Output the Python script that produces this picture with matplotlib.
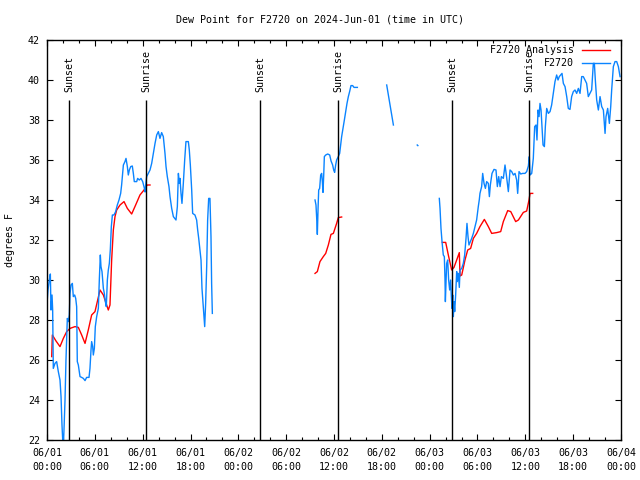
import numpy as np
import matplotlib
matplotlib.use("Agg")
import matplotlib.pyplot as plt
from matplotlib.ticker import MultipleLocator

nan = np.nan

# hours since 2024-06-01 00:00 UTC
obs_hours = [
    0.0, 0.125, 0.29, 0.42, 0.5, 0.63, 0.71, 0.79, 1.0, 1.21, 1.42, 1.63, 1.76, 1.88, 1.97, 2.05,
    2.13, 2.26, 2.38, 2.55, 2.68, 2.8, 2.89, 3.01, 3.18, 3.3, 3.47, 3.6, 3.72, 3.8, 3.93, 4.14,
    4.35, 4.56, 4.77, 4.97, 5.27, 5.39, 5.52, 5.6, 5.73, 5.81, 5.94, 6.06, 6.23, 6.44, 6.57, 6.69,
    6.77, 6.9, 7.07, 7.19, 7.32, 7.44, 7.57, 7.69, 7.82, 7.94, 8.07, 8.2, 8.4, 8.61, 8.82, 9.03,
    9.24, 9.36, 9.58, 9.78, 9.91, 10.08, 10.2, 10.33, 10.5, 10.7, 10.83, 10.95, 11.25, 11.37,
    11.58, 11.79, 12.0, 12.21, 12.3, 12.42, 12.5, 12.71, 12.92, 13.13, 13.34, 13.55, 13.76,
    13.97, 14.17, 14.38, 14.59, 14.8, 14.93, 15.09, 15.3, 15.43, 15.64, 15.85, 16.18, 16.35,
    16.48, 16.6, 16.68, 16.81, 16.93, 17.1, 17.27, 17.43, 17.73, 17.85, 17.98, 18.15, 18.27,
    18.56, 18.77, 18.9, 19.03, 19.32, 19.44, 19.57, 19.69, 19.78, 19.9, 20.03, 20.15, 20.28,
    20.44, 20.57, 20.65, 20.74,
    20.8,
    33.62, 33.74, 33.83, 33.91, 34.0, 34.08, 34.2, 34.33, 34.45, 34.54, 34.62, 34.71, 34.79,
    34.96, 35.21, 35.46, 35.63, 35.83, 35.96, 36.08, 36.21, 36.33, 36.54, 36.71, 36.84, 36.96,
    37.13, 37.3, 37.46, 37.63, 37.8, 37.96, 38.13, 38.34, 38.51, 38.93,
    39.0,
    42.61, 42.82, 43.03, 43.24, 43.45,
    43.5,
    46.44, 46.52,
    46.6,
    49.21, 49.3, 49.42, 49.55, 49.71, 49.84, 49.92, 49.97, 50.05, 50.13, 50.26, 50.38, 50.51,
    50.63, 50.72, 50.8, 50.89, 50.97, 51.05, 51.14, 51.26, 51.39, 51.47, 51.6, 51.72, 51.81,
    52.02, 52.22, 52.39, 52.56, 52.68, 52.81, 52.93, 53.1, 53.27, 53.48, 53.69, 53.89, 54.1,
    54.23, 54.31, 54.52, 54.65, 54.82, 54.99, 55.15, 55.36, 55.49, 55.61, 55.82, 56.07, 56.32,
    56.49, 56.66, 56.83, 56.99, 57.24, 57.45, 57.62, 57.87, 58.08, 58.29, 58.5, 58.71, 58.91,
    59.04, 59.21, 59.42, 59.66, 59.96, 60.17, 60.38, 60.5, 60.59, 60.8, 61.0, 61.17, 61.34,
    61.46, 61.59, 61.72, 61.84, 61.97, 62.09, 62.22, 62.39, 62.51, 62.68, 62.89, 63.1, 63.3,
    63.51, 63.72, 63.93, 64.1, 64.26, 64.43, 64.6, 64.77, 64.98, 65.19, 65.39, 65.6, 65.81,
    66.02, 66.23, 66.44, 66.65, 66.86, 67.07, 67.27, 67.48, 67.69, 67.9, 68.11, 68.32, 68.53,
    68.66, 68.78, 68.95, 69.16, 69.37, 69.58, 69.79, 70.0, 70.12, 70.33, 70.54, 70.71, 70.83,
    71.04, 71.25, 71.46, 71.67, 71.88,
]
obs_dewpt = [
    28.83, 29.5, 30.0, 30.3, 28.5, 29.25, 28.5, 25.58, 25.83, 25.92, 25.42, 25.0, 24.17, 22.75, 22.0, 21.67,
    22.5, 24.0, 26.0, 28.08, 27.92, 28.25, 29.33, 29.75, 29.83, 29.17, 29.25, 29.08, 28.67, 25.92, 25.75, 25.17,
    25.13, 25.08, 24.97, 25.13, 25.13, 25.58, 26.5, 26.92, 26.67, 26.25, 26.58, 27.67, 28.17, 28.58, 30.08, 31.25,
    30.67, 30.42, 29.58, 29.33, 28.92, 28.67, 30.0, 30.5, 30.83, 31.5, 32.67, 33.25, 33.25, 33.42, 33.75, 34.0,
    34.33, 34.75, 35.75, 35.92, 36.08, 35.67, 35.25, 35.5, 35.67, 35.7, 35.33, 34.92, 34.92, 35.08,
    35.0, 35.08, 34.92, 34.6, 34.4, 34.9, 35.17, 35.33, 35.5, 35.83, 36.33, 36.83, 37.25,
    37.42, 37.08, 37.37, 37.17, 36.33, 35.67, 35.17, 34.67, 34.17, 33.58, 33.17, 33.0, 33.67,
    35.33, 34.83, 35.08, 34.33, 33.83, 34.83, 36.0, 36.92, 36.92, 36.5, 35.75, 34.5, 33.33,
    33.25, 33.0, 32.5, 32.08, 31.0, 29.58, 28.83, 28.08, 27.67, 28.83, 30.67, 33.0, 34.08,
    34.08, 32.17, 29.83, 28.33,
    nan,
    34.0, 33.75, 33.08, 32.28, 33.58, 34.5, 34.58, 35.25, 35.33, 34.92, 34.38, 35.25, 36.17,
    36.25, 36.3, 36.25, 35.95, 35.75, 35.5, 35.38, 35.75, 36.0, 36.17, 36.33, 36.75, 37.17,
    37.58, 38.0, 38.42, 38.83, 39.17, 39.42, 39.72, 39.72, 39.63, 39.63,
    nan,
    39.75, 39.25, 38.75, 38.25, 37.75,
    nan,
    36.75, 36.72,
    nan,
    34.08, 33.58, 32.58, 31.92, 31.25, 31.17, 30.08, 28.92, 29.83, 30.83, 31.0, 30.0, 29.5,
    30.0, 29.17, 28.58, 29.25, 28.17, 28.92, 28.42, 29.25, 30.42, 29.92, 30.33, 29.63, 30.5,
    30.58, 30.83, 31.25, 32.08, 32.83, 32.17, 31.75, 31.92, 32.08, 32.33, 32.67, 33.0, 33.67,
    34.03, 34.33, 34.67, 35.33, 34.83, 34.58, 34.92, 34.83, 34.17, 34.75, 35.33, 35.53, 35.5,
    34.67, 35.17, 34.67, 35.17, 35.08, 35.75, 35.25, 34.42, 35.5, 35.42, 35.25, 35.33, 35.0,
    34.33, 35.42, 35.3, 35.33, 35.33, 35.42, 35.7, 36.17, 35.25, 35.33, 36.08, 37.67, 37.75,
    37.0, 38.5, 38.17, 38.83, 38.5, 37.67, 36.75, 36.67, 37.67, 38.58, 38.33, 38.42, 38.75,
    39.33, 39.92, 40.25, 40.0, 40.17, 40.25, 40.33, 39.83, 39.67, 39.17, 38.58, 38.53, 39.17,
    39.42, 39.5, 39.33, 39.58, 39.33, 40.17, 40.17, 40.0, 39.83, 39.17, 39.33, 39.5, 40.83,
    40.83, 40.0, 39.0, 38.5, 39.17, 38.67, 38.5, 37.33, 38.17, 38.58, 37.83, 38.67, 39.5,
    40.67, 40.92, 40.92, 40.67, 40.17,
]

ana_hours = [
    0.59, 0.67, 1.13, 1.63, 2.05, 2.47, 2.89, 3.51, 3.93, 4.35, 4.77, 5.18, 5.6, 6.02, 6.65,
    7.07, 7.69, 7.9, 8.11, 8.32, 8.53, 8.74, 9.16, 9.66, 10.08, 10.62, 11.12, 11.66, 12.17,
    12.42, 12.58, 12.92,
    13.0,
    33.62, 33.91, 34.24, 34.66, 34.96, 35.29, 35.62, 35.92, 36.33, 36.54, 36.96,
    37.0,
    49.59, 50.01, 50.34, 50.76, 51.05, 51.39, 51.72, 51.81, 52.02, 52.43, 52.77, 53.14, 53.48,
    53.89, 54.31, 54.86, 55.36, 55.78, 56.41, 56.91, 57.24, 57.79, 58.17, 58.79, 59.13, 59.75,
    60.17, 60.46, 60.59, 60.92,
]
ana_dewpt = [
    26.17, 27.25, 26.95, 26.67, 27.08, 27.42, 27.58, 27.67, 27.63, 27.25, 26.83, 27.5, 28.25,
    28.42, 29.5, 29.25, 28.5, 28.75, 31.0, 32.5, 33.17, 33.5, 33.75, 33.92, 33.58, 33.3, 33.75,
    34.25, 34.5, 34.67, 34.75, 34.75,
    nan,
    30.33, 30.42, 30.92, 31.17, 31.33, 31.75, 32.28, 32.33, 32.83, 33.12, 33.15,
    nan,
    31.88, 31.88, 31.25, 30.5, 30.63, 31.0, 31.37, 30.2, 30.25, 31.0, 31.5, 31.58, 32.08,
    32.33, 32.67, 33.03, 32.67, 32.33, 32.37, 32.42, 32.92, 33.47, 33.42, 32.92, 33.0, 33.38,
    33.45, 34.0, 34.33, 34.33,
]

sun_hours = [2.8, 12.42, 26.76, 36.55, 50.85, 60.5]
sun_labels = ["Sunset", "Sunrise", "Sunset", "Sunrise", "Sunset", "Sunrise"]

tick_hours = list(range(0, 73, 6))
tick_labels = ["06/01\n00:00", "06/01\n06:00", "06/01\n12:00", "06/01\n18:00",
               "06/02\n00:00", "06/02\n06:00", "06/02\n12:00", "06/02\n18:00",
               "06/03\n00:00", "06/03\n06:00", "06/03\n12:00", "06/03\n18:00",
               "06/04\n00:00"]

plt.rcParams['font.family'] = ['DejaVu Sans Mono']
fs = 7.2

fig = plt.figure(figsize=(6.4, 4.8), dpi=100)
ax = fig.add_axes([47 / 640, 40 / 480, 574 / 640, 400 / 480])

blue = '#0a84ff'
red = '#ff0000'

ax.plot(ana_hours, ana_dewpt, color=red, lw=1.0)
ax.plot(obs_hours, obs_dewpt, color=blue, lw=1.0)

for h, lab in zip(sun_hours, sun_labels):
    ax.vlines(h, 22, 39.0, color='black', lw=1.0)
    ax.text(h, 39.4, lab, rotation=90, ha='center', va='bottom', fontsize=fs)

ax.set_xlim(0, 72)
ax.set_ylim(22, 42)
ax.set_xticks(tick_hours)
ax.set_xticklabels(tick_labels, fontsize=fs, linespacing=1.5)
ax.xaxis.set_minor_locator(MultipleLocator(2))
ax.yaxis.set_major_locator(MultipleLocator(2))
for lab in ax.get_yticklabels():
    lab.set_fontsize(fs)
ax.tick_params(which='major', direction='in', top=True, right=True, length=4.5, width=0.8, pad=6)
ax.tick_params(axis='y', which='major', pad=5)
ax.tick_params(which='minor', direction='in', top=True, right=True, length=2.2, width=0.8)
for s in ax.spines.values():
    s.set_linewidth(1.0)

# legend, gnuplot style
ax.text(0.918, 0.975, "F2720 Analysis", transform=ax.transAxes, ha='right', va='center', fontsize=fs)
ax.text(0.918, 0.9425, "F2720", transform=ax.transAxes, ha='right', va='center', fontsize=fs)
ax.plot([0.932, 0.981], [0.975, 0.975], transform=ax.transAxes, color=red, lw=1.0)
ax.plot([0.932, 0.981], [0.9425, 0.9425], transform=ax.transAxes, color=blue, lw=1.0)

fig.text(0.5, 1 - 19 / 480, "Dew Point for F2720 on 2024-Jun-01 (time in UTC)",
         ha='center', va='center', fontsize=fs)
fig.text(10 / 640, 0.5, "degrees F", rotation=90, ha='center', va='center', fontsize=fs)

fig.savefig("out.png", dpi=100)
